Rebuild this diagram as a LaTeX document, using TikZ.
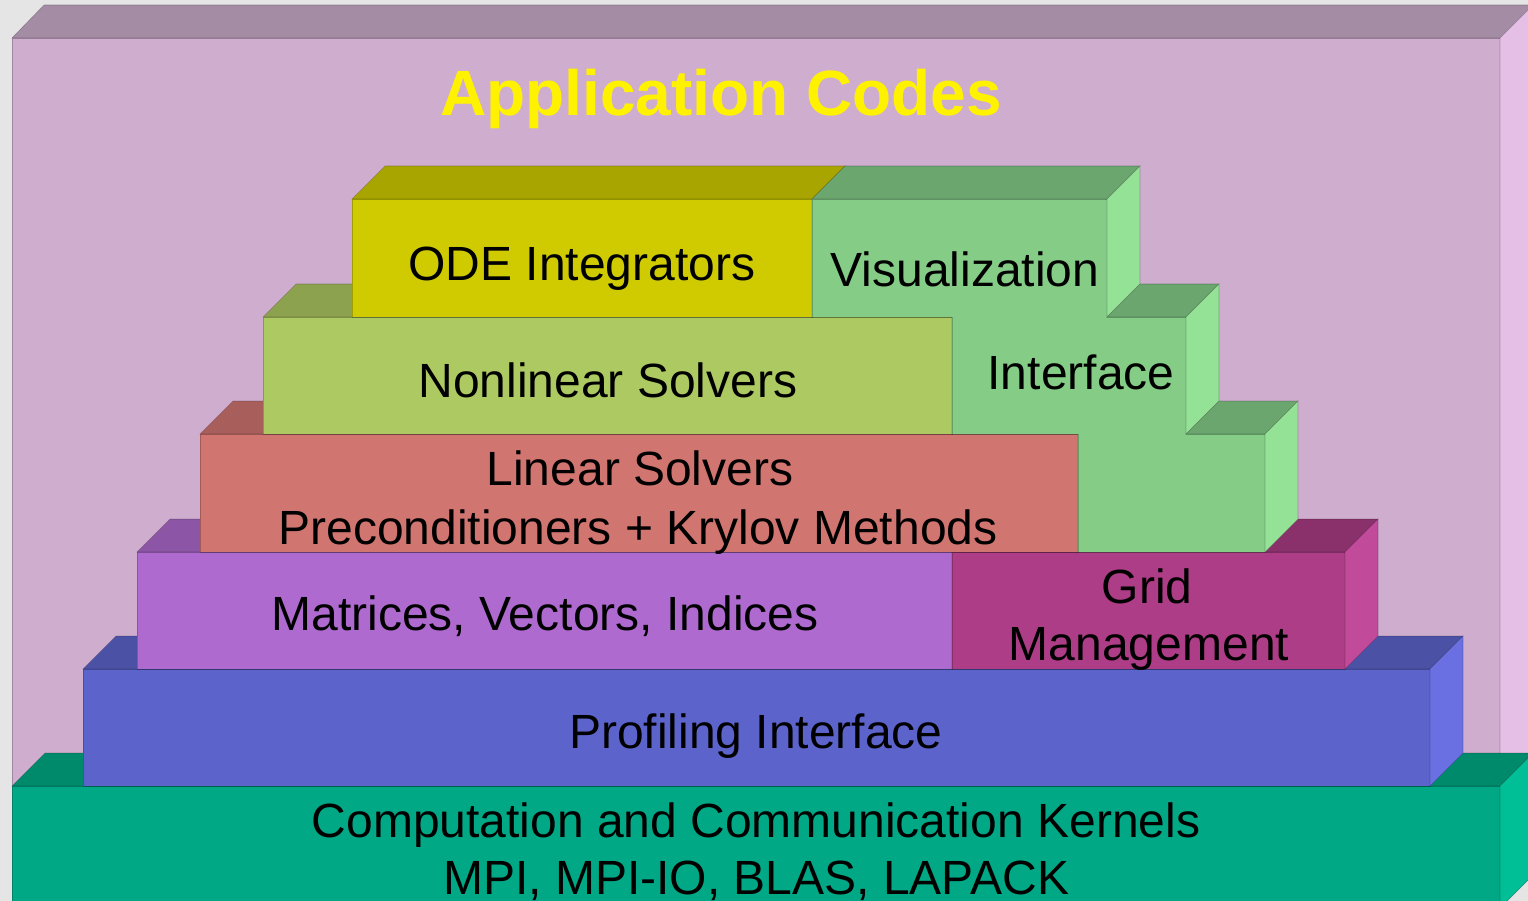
\documentclass[tikz,border=0pt]{standalone}
\usepackage{fontspec}
\setmainfont{Liberation Sans}
\definecolor{bggray}{HTML}{E5E5E5}
% application box
\definecolor{appF}{HTML}{CFADCF}\definecolor{appT}{HTML}{A58CA5}\definecolor{appS}{HTML}{E5BFE5}
% kernels
\definecolor{kerF}{HTML}{00A886}\definecolor{kerT}{HTML}{008A6C}\definecolor{kerS}{HTML}{00BE96}
% profiling
\definecolor{proF}{HTML}{5C64CC}\definecolor{proT}{HTML}{4B52A6}\definecolor{proS}{HTML}{6A70E2}
% matrices
\definecolor{matF}{HTML}{AE6ACF}\definecolor{matT}{HTML}{8D55A5}\definecolor{matS}{HTML}{C078E5}
% grid
\definecolor{griF}{HTML}{AE3D87}\definecolor{griT}{HTML}{8A306B}\definecolor{griS}{HTML}{C24A9B}
% linear
\definecolor{linF}{HTML}{D17571}\definecolor{linT}{HTML}{A85F5C}\definecolor{linS}{HTML}{E58580}
% nonlinear
\definecolor{nonF}{HTML}{ACC962}\definecolor{nonT}{HTML}{8DA24E}\definecolor{nonS}{HTML}{BEDD6E}
% ODE
\definecolor{odeF}{HTML}{CFCB00}\definecolor{odeT}{HTML}{A8A500}\definecolor{odeS}{HTML}{E3DF00}
% visualization
\definecolor{visF}{HTML}{85CC87}\definecolor{visT}{HTML}{6BA66E}\definecolor{visS}{HTML}{94E296}
\tikzset{
  face/.style={draw=black, draw opacity=0.22, line width=0.6pt},
  lbl/.style={font=\fontsize{48}{58}\selectfont, text=black, align=center, inner sep=0pt, anchor=base},
  ttl/.style={font=\fontsize{64}{70}\selectfont\bfseries, text=yellow, inner sep=0pt, anchor=base}
}
% block: x1 y1 x2 y2 (front face, y grows downward), colour prefix
\newcommand\blockthree[5]{%
  \fill[#5F, face] (#1,#2) rectangle (#3,#4);
  \fill[#5T, face] (#1,#2) -- ({#1+33},{#2-33}) -- ({#3+33},{#2-33}) -- (#3,#2) -- cycle;
  \fill[#5S, face] (#3,#2) -- ({#3+33},{#2-33}) -- ({#3+33},{#4-33}) -- (#3,#4) -- cycle;
}
\begin{document}
\begin{tikzpicture}[x=1pt,y=-1pt]
\useasboundingbox (0,0) rectangle (1528,901);
\clip (0,0) rectangle (1528,901);
\fill[bggray] (0,0) rectangle (1528,901);
% outer application box
\fill[appF, face] (12,38) rectangle (1500,908);
\fill[appT, face] (12,38) -- (44,5) -- (1560,5) -- (1500,38) -- cycle;
\fill[appS, face] (1500,38) -- (1533,5) -- (1533,875) -- (1500,908) -- cycle;
% layers, bottom to top
\blockthree{12}{786}{1500}{908}{ker}
\blockthree{83}{669}{1430}{786}{pro}
\blockthree{137}{552}{952}{669}{mat}
\blockthree{952}{552}{1345}{669}{gri}
\blockthree{200}{434}{1078}{552}{lin}
\blockthree{263}{317}{952}{434}{non}
\blockthree{352}{199}{812}{317}{ode}
% visualization interface staircase
\fill[visF, face] (812,199) -- (1107,199) -- (1107,317) -- (1186,317) -- (1186,434)
  -- (1265,434) -- (1265,552) -- (1078,552) -- (1078,434) -- (952,434) -- (952,317)
  -- (812,317) -- cycle;
\fill[visT, face] (812,199) -- (845,166) -- (1140,166) -- (1107,199) -- cycle;
\fill[visS, face] (1107,199) -- (1140,166) -- (1140,284) -- (1107,317) -- cycle;
\fill[visT, face] (1107,317) -- (1140,284) -- (1219,284) -- (1186,317) -- cycle;
\fill[visS, face] (1186,317) -- (1219,284) -- (1219,401) -- (1186,434) -- cycle;
\fill[visT, face] (1186,434) -- (1219,401) -- (1298,401) -- (1265,434) -- cycle;
\fill[visS, face] (1265,434) -- (1298,401) -- (1298,519) -- (1265,552) -- cycle;
% labels
\node[ttl] (title) at (721,116) {Application Codes};
\node[lbl] (ode) at (582,280) {ODE Integrators};
\node[lbl] (vis) at (965,287) {Visualization};
\node[lbl] (visif) at (1081,389) {Interface};
\node[lbl] (nonlin) at (608,397) {Nonlinear Solvers};
\node[lbl] (linear) at (640,485) {Linear Solvers};
\node[lbl] (precond) at (638,544) {Preconditioners + Krylov Methods};
\node[lbl] (matvec) at (545,630) {Matrices, Vectors, Indices};
\node[lbl] (grid) at (1147,603) {Grid};
\node[lbl] (gridmgmt) at (1149,660) {Management};
\node[lbl] (prof) at (756,748) {Profiling Interface};
\node[lbl] (kern) at (756,837) {Computation and Communication Kernels};
\node[lbl] (libs) at (756,894) {MPI, MPI-IO, BLAS, LAPACK};
\end{tikzpicture}
\end{document}
